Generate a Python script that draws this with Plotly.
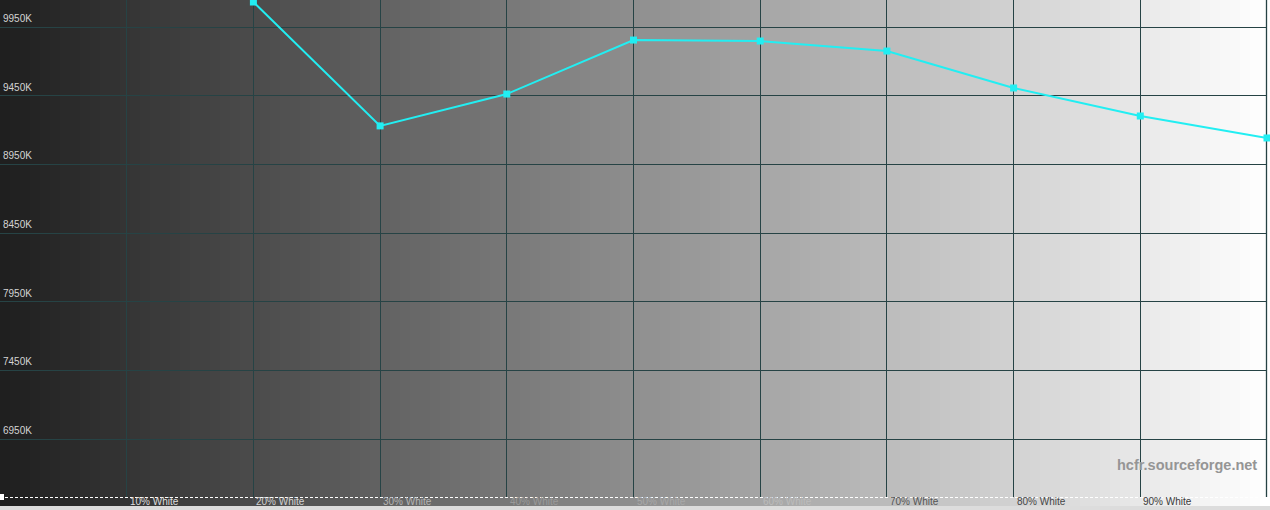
import plotly.graph_objects as go

# ---- data ----
x_pct = [20, 30, 40, 50, 60, 70, 80, 90, 100]
cct_k = [10132, 9230, 9462, 9855, 9848, 9775, 9506, 9302, 9142]

y_ticks = [9950, 9450, 8950, 8450, 7950, 7450, 6950]
y_tick_labels = ["9950K", "9450K", "8950K", "8450K", "7950K", "7450K", "6950K"]

x_ticks = [10, 20, 30, 40, 50, 60, 70, 80, 90]
x_tick_labels = ["10% White", "20% White", "30% White", "40% White", "50% White",
                 "60% White", "70% White", "80% White", "90% White"]
x_label_colors = ["#dedede", "#d2d2d2", "#b4b4b4", "#9a9a9a", "#a8a8a8",
                  "#bcbcbc", "#555555", "#474747", "#3a3a3a"]

W, H = 1270, 510
PLOT_W = 1267
PLOT_H = 497
Y_TOP = 10146.6
Y_BOT = 6527.7

fig = go.Figure()

fig.add_trace(go.Scatter(
    x=x_pct, y=cct_k, mode="lines+markers",
    line=dict(color="#22eef2", width=2),
    marker=dict(symbol="square", size=7, color="#22eef2"),
    cliponaxis=False, showlegend=False, hoverinfo="x+y"))

shapes = []
# background gradient (paper coords)
n = 127
for i in range(n):
    x0 = i * 10 / W
    x1 = min((i + 1) * 10 + 0.5, W) / W
    t = (i * 10 + 5) / PLOT_W
    g = int(round(30 + 225 * min(t, 1.0)))
    shapes.append(dict(type="rect", xref="paper", yref="paper",
                       x0=x0, x1=x1, y0=(H - 506) / H, y1=1,
                       fillcolor=f"rgb({g},{g},{g})", line=dict(width=0),
                       layer="below"))
# right border line
shapes.append(dict(type="line", xref="paper", yref="paper",
                   x0=(PLOT_W - 0.5) / W, x1=(PLOT_W - 0.5) / W, y0=(H - PLOT_H) / H, y1=1,
                   line=dict(color="#264345", width=1.3), layer="below"))
# dashed bottom line
shapes.append(dict(type="line", xref="paper", yref="paper",
                   x0=0, x1=PLOT_W / W, y0=(H - 497.5) / H, y1=(H - 497.5) / H,
                   line=dict(color="#ffffff", width=1, dash="3px,2px"), layer="above"))
# small white marker bottom-left
shapes.append(dict(type="rect", xref="paper", yref="paper",
                   x0=0, x1=4 / W, y0=(H - 500) / H, y1=(H - 494) / H,
                   fillcolor="#ffffff", line=dict(width=0), layer="above"))

annotations = []
for v, lab in zip(y_ticks, y_tick_labels):
    annotations.append(dict(x=1 / W, xref="paper", y=v, yref="y",
                            text=lab, showarrow=False, xanchor="left",
                            yanchor="bottom", yshift=1,
                            font=dict(family="Liberation Sans, Arial", size=10, color="#d4d4d4")))
for v, lab, c in zip(x_ticks, x_tick_labels, x_label_colors):
    annotations.append(dict(x=v, xref="x", y=(H - 501.5) / H, yref="paper",
                            text=lab, showarrow=False, xanchor="left",
                            yanchor="middle", xshift=1,
                            font=dict(family="Liberation Sans, Arial", size=10, color=c)))
annotations.append(dict(x=1259 / W, xref="paper", y=(H - 465) / H, yref="paper",
                        text="<b>hcfr.sourceforge.net</b>", showarrow=False,
                        xanchor="right", yanchor="middle",
                        font=dict(family="Liberation Sans, Arial", size=14.5, color="#959595")))

grid_color = "#264345"
fig.update_layout(
    width=W, height=H,
    margin=dict(l=0, r=0, t=0, b=0),
    paper_bgcolor="#dcdcdc",
    plot_bgcolor="rgba(0,0,0,0)",
    shapes=shapes,
    annotations=annotations,
    xaxis=dict(range=[0, 100], domain=[0, PLOT_W / W], tickvals=x_ticks,
               showticklabels=False, showgrid=True, gridcolor=grid_color, gridwidth=1.3,
               zeroline=False, showline=False, ticks=""),
    yaxis=dict(range=[Y_BOT, Y_TOP], domain=[(H - PLOT_H) / H, 1], tickvals=y_ticks,
               showticklabels=False, showgrid=True, gridcolor=grid_color, gridwidth=1.3,
               zeroline=False, showline=False, ticks=""),
)

fig.write_html("out.html",
               config={"displayModeBar": False},
               post_script="document.body.style.margin='0';document.body.style.overflow='hidden';")
